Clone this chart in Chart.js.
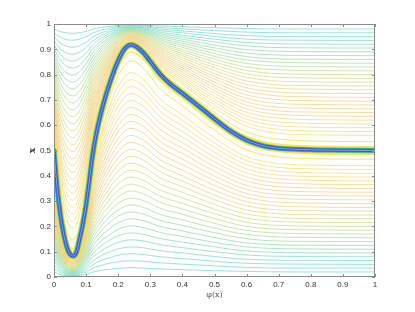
<!DOCTYPE html>
<html>
<head>
<meta charset="utf-8">
<script src="https://cdn.jsdelivr.net/npm/chart.js@4.4.1/dist/chart.umd.min.js"></script>
<style>
  html, body { margin: 0; padding: 0; background: #fff; }
  #wrap { width: 415px; height: 312px; }
</style>
</head>
<body>
<div id="wrap"><canvas id="phiChart"></canvas></div>
<script>
// phi(x) sample positions shared by the contour lines
const PHI = [0, 0.015, 0.03, 0.045, 0.06, 0.075, 0.09, 0.105, 0.12, 0.145, 0.17, 0.2, 0.24, 0.28, 0.33, 0.4, 0.5, 0.6, 0.75, 1];

// the dense core curve (finer sampling)
const CORE_PHI = [0, 0.01, 0.02, 0.03, 0.04, 0.05, 0.06, 0.07, 0.08, 0.09, 0.10, 0.11, 0.12, 0.13, 0.14, 0.16, 0.18, 0.20, 0.22, 0.24, 0.26, 0.28, 0.30, 0.33, 0.36, 0.40, 0.45, 0.50, 0.55, 0.60, 0.65, 0.70, 0.80, 0.90, 1.0];
const CORE_X = [0.500, 0.350, 0.245, 0.170, 0.118, 0.090, 0.083, 0.098, 0.150, 0.210, 0.285, 0.380, 0.480, 0.555, 0.615, 0.712, 0.790, 0.856, 0.902, 0.918, 0.907, 0.884, 0.852, 0.803, 0.765, 0.726, 0.676, 0.625, 0.577, 0.541, 0.519, 0.509, 0.503, 0.501, 0.500];

// contour levels, near the core -> far from it
const LEVELS = [0.97, 0.93, 0.88, 0.85, 0.82, 0.79, 0.76, 0.73, 0.70, 0.67, 0.64, 0.61, 0.58, 0.55, 0.52, 0.49, 0.46, 0.43, 0.40, 0.37, 0.34, 0.31, 0.28, 0.25, 0.22, 0.19, 0.16, 0.13, 0.10, 0.07, 0.04];

// contour lines above the core
const UP_97 = [0.515,0.314,0.195,0.129,0.111,0.148,0.234,0.352,0.496,0.649,0.759,0.860,0.920,0.889,0.806,0.736,0.635,0.555,0.520,0.515];
const UP_93 = [0.535,0.342,0.228,0.165,0.147,0.183,0.265,0.379,0.516,0.663,0.769,0.866,0.924,0.894,0.814,0.747,0.650,0.573,0.540,0.535];
const UP_88 = [0.560,0.378,0.270,0.210,0.193,0.227,0.305,0.412,0.542,0.681,0.782,0.873,0.928,0.900,0.824,0.761,0.669,0.596,0.564,0.560];
const UP_85 = [0.575,0.399,0.294,0.237,0.221,0.254,0.328,0.432,0.558,0.692,0.789,0.878,0.930,0.903,0.830,0.769,0.680,0.610,0.579,0.575];
const UP_82 = [0.590,0.420,0.319,0.264,0.248,0.280,0.352,0.452,0.574,0.703,0.797,0.882,0.933,0.907,0.836,0.777,0.692,0.624,0.594,0.590];
const UP_79 = [0.605,0.441,0.344,0.291,0.276,0.306,0.376,0.472,0.589,0.714,0.804,0.886,0.935,0.910,0.842,0.785,0.703,0.637,0.609,0.605];
const UP_76 = [0.620,0.463,0.369,0.318,0.303,0.333,0.400,0.492,0.605,0.725,0.812,0.891,0.938,0.913,0.848,0.793,0.714,0.651,0.624,0.620];
const UP_73 = [0.635,0.484,0.394,0.344,0.331,0.359,0.423,0.512,0.620,0.736,0.819,0.895,0.940,0.917,0.854,0.801,0.726,0.665,0.639,0.635];
const UP_70 = [0.650,0.505,0.419,0.371,0.358,0.385,0.447,0.532,0.636,0.747,0.826,0.899,0.943,0.920,0.860,0.810,0.737,0.679,0.653,0.650];
const UP_67 = [0.665,0.526,0.444,0.398,0.386,0.412,0.471,0.552,0.652,0.757,0.834,0.904,0.945,0.924,0.866,0.818,0.748,0.692,0.668,0.665];
const UP_64 = [0.680,0.548,0.469,0.425,0.413,0.438,0.494,0.572,0.667,0.768,0.841,0.908,0.948,0.927,0.872,0.826,0.759,0.706,0.683,0.680];
const UP_61 = [0.695,0.569,0.494,0.452,0.441,0.464,0.518,0.593,0.683,0.779,0.849,0.912,0.950,0.930,0.878,0.834,0.771,0.720,0.698,0.695];
const UP_58 = [0.710,0.590,0.519,0.479,0.468,0.491,0.542,0.613,0.698,0.790,0.856,0.916,0.952,0.934,0.884,0.842,0.782,0.734,0.713,0.710];
const UP_55 = [0.725,0.611,0.543,0.506,0.496,0.517,0.565,0.633,0.714,0.801,0.864,0.921,0.955,0.937,0.890,0.850,0.793,0.748,0.728,0.725];
const UP_52 = [0.740,0.632,0.568,0.533,0.523,0.543,0.589,0.653,0.730,0.812,0.871,0.925,0.957,0.941,0.896,0.859,0.804,0.761,0.743,0.740];
const UP_49 = [0.755,0.654,0.593,0.560,0.551,0.570,0.613,0.673,0.745,0.823,0.878,0.929,0.960,0.944,0.902,0.867,0.816,0.775,0.757,0.755];
const UP_46 = [0.770,0.675,0.618,0.587,0.578,0.596,0.637,0.693,0.761,0.833,0.886,0.934,0.962,0.948,0.908,0.875,0.827,0.789,0.772,0.770];
const UP_43 = [0.785,0.696,0.643,0.614,0.606,0.622,0.660,0.713,0.776,0.844,0.893,0.938,0.965,0.951,0.914,0.883,0.838,0.803,0.787,0.785];
const UP_40 = [0.800,0.717,0.668,0.641,0.633,0.649,0.684,0.733,0.792,0.855,0.901,0.942,0.967,0.954,0.920,0.891,0.850,0.816,0.802,0.800];
const UP_37 = [0.815,0.738,0.693,0.668,0.661,0.675,0.708,0.753,0.808,0.866,0.908,0.947,0.970,0.958,0.926,0.899,0.861,0.830,0.817,0.815];
const UP_34 = [0.830,0.760,0.718,0.695,0.688,0.701,0.731,0.773,0.823,0.877,0.916,0.951,0.972,0.961,0.932,0.908,0.872,0.844,0.832,0.830];
const UP_31 = [0.845,0.781,0.743,0.722,0.716,0.728,0.755,0.793,0.839,0.888,0.923,0.955,0.975,0.965,0.938,0.916,0.883,0.858,0.847,0.845];
const UP_28 = [0.860,0.802,0.768,0.749,0.743,0.754,0.779,0.813,0.854,0.899,0.931,0.960,0.977,0.968,0.944,0.924,0.895,0.871,0.861,0.860];
const UP_25 = [0.875,0.823,0.792,0.775,0.771,0.780,0.802,0.833,0.870,0.909,0.938,0.964,0.979,0.971,0.950,0.932,0.906,0.885,0.876,0.875];
const UP_22 = [0.890,0.844,0.817,0.802,0.798,0.807,0.826,0.853,0.886,0.920,0.945,0.968,0.982,0.975,0.956,0.940,0.917,0.899,0.891,0.890];
const UP_19 = [0.905,0.866,0.842,0.829,0.826,0.833,0.850,0.873,0.901,0.931,0.953,0.973,0.984,0.978,0.962,0.948,0.929,0.913,0.906,0.905];
const UP_16 = [0.920,0.887,0.867,0.856,0.853,0.860,0.874,0.893,0.917,0.942,0.960,0.977,0.987,0.982,0.968,0.956,0.940,0.927,0.921,0.920];
const UP_13 = [0.935,0.908,0.892,0.883,0.881,0.886,0.897,0.913,0.932,0.953,0.968,0.981,0.989,0.985,0.974,0.965,0.951,0.940,0.936,0.935];
const UP_10 = [0.950,0.929,0.917,0.910,0.908,0.912,0.921,0.933,0.948,0.964,0.975,0.986,0.992,0.989,0.980,0.973,0.962,0.954,0.950,0.950];
const UP_07 = [0.965,0.951,0.942,0.937,0.936,0.939,0.945,0.953,0.964,0.975,0.983,0.990,0.994,0.992,0.986,0.981,0.974,0.968,0.965,0.965];
const UP_04 = [0.980,0.972,0.967,0.964,0.963,0.965,0.968,0.973,0.979,0.986,0.990,0.994,0.997,0.995,0.992,0.989,0.985,0.982,0.980,0.980];

// contour lines below the core
const LOW_97 = [0.485,0.284,0.165,0.099,0.081,0.118,0.204,0.322,0.466,0.619,0.729,0.830,0.890,0.859,0.776,0.706,0.605,0.525,0.490,0.485];
const LOW_93 = [0.465,0.272,0.158,0.095,0.077,0.113,0.195,0.309,0.446,0.593,0.699,0.796,0.854,0.824,0.744,0.677,0.580,0.503,0.470,0.465];
const LOW_88 = [0.440,0.258,0.150,0.090,0.073,0.107,0.185,0.292,0.422,0.561,0.662,0.753,0.808,0.780,0.704,0.641,0.549,0.476,0.444,0.440];
const LOW_85 = [0.425,0.249,0.145,0.087,0.071,0.104,0.179,0.282,0.408,0.542,0.639,0.728,0.780,0.753,0.680,0.619,0.530,0.460,0.429,0.425];
const LOW_82 = [0.410,0.240,0.139,0.084,0.068,0.100,0.172,0.272,0.394,0.523,0.617,0.702,0.753,0.727,0.656,0.597,0.512,0.444,0.414,0.410];
const LOW_79 = [0.395,0.231,0.134,0.081,0.066,0.096,0.166,0.262,0.379,0.504,0.594,0.676,0.725,0.700,0.632,0.575,0.493,0.427,0.399,0.395];
const LOW_76 = [0.380,0.223,0.129,0.078,0.063,0.093,0.160,0.252,0.365,0.485,0.572,0.651,0.698,0.673,0.608,0.553,0.474,0.411,0.384,0.380];
const LOW_73 = [0.365,0.214,0.124,0.074,0.061,0.089,0.153,0.242,0.350,0.466,0.549,0.625,0.670,0.647,0.584,0.531,0.456,0.395,0.369,0.365];
const LOW_70 = [0.350,0.205,0.119,0.071,0.058,0.085,0.147,0.232,0.336,0.447,0.526,0.599,0.643,0.620,0.560,0.510,0.437,0.379,0.354,0.350];
const LOW_67 = [0.335,0.196,0.114,0.068,0.056,0.082,0.141,0.222,0.322,0.427,0.504,0.574,0.615,0.594,0.536,0.488,0.418,0.362,0.338,0.335];
const LOW_64 = [0.320,0.188,0.109,0.065,0.053,0.078,0.134,0.212,0.307,0.408,0.481,0.548,0.588,0.567,0.512,0.466,0.399,0.346,0.323,0.320];
const LOW_61 = [0.305,0.179,0.104,0.062,0.051,0.074,0.128,0.203,0.293,0.389,0.459,0.522,0.560,0.540,0.488,0.444,0.381,0.330,0.308,0.305];
const LOW_58 = [0.290,0.170,0.099,0.059,0.048,0.071,0.122,0.193,0.278,0.370,0.436,0.496,0.532,0.514,0.464,0.422,0.362,0.314,0.293,0.290];
const LOW_55 = [0.275,0.161,0.094,0.056,0.046,0.067,0.116,0.183,0.264,0.351,0.414,0.471,0.505,0.487,0.440,0.400,0.343,0.298,0.278,0.275];
const LOW_52 = [0.260,0.152,0.088,0.053,0.043,0.063,0.109,0.173,0.250,0.332,0.391,0.445,0.477,0.461,0.416,0.379,0.324,0.281,0.263,0.260];
const LOW_49 = [0.245,0.144,0.083,0.050,0.041,0.060,0.103,0.163,0.235,0.313,0.368,0.419,0.450,0.434,0.392,0.357,0.306,0.265,0.247,0.245];
const LOW_46 = [0.230,0.135,0.078,0.047,0.038,0.056,0.097,0.153,0.221,0.293,0.346,0.394,0.422,0.408,0.368,0.335,0.287,0.249,0.232,0.230];
const LOW_43 = [0.215,0.126,0.073,0.044,0.036,0.052,0.090,0.143,0.206,0.274,0.323,0.368,0.395,0.381,0.344,0.313,0.268,0.233,0.217,0.215];
const LOW_40 = [0.200,0.117,0.068,0.041,0.033,0.049,0.084,0.133,0.192,0.255,0.301,0.342,0.367,0.354,0.320,0.291,0.250,0.216,0.202,0.200];
const LOW_37 = [0.185,0.108,0.063,0.038,0.031,0.045,0.078,0.123,0.178,0.236,0.278,0.317,0.340,0.328,0.296,0.269,0.231,0.200,0.187,0.185];
const LOW_34 = [0.170,0.100,0.058,0.035,0.028,0.041,0.071,0.113,0.163,0.217,0.256,0.291,0.312,0.301,0.272,0.248,0.212,0.184,0.172,0.170];
const LOW_31 = [0.155,0.091,0.053,0.032,0.026,0.038,0.065,0.103,0.149,0.198,0.233,0.265,0.285,0.275,0.248,0.226,0.193,0.168,0.157,0.155];
const LOW_28 = [0.140,0.082,0.048,0.029,0.023,0.034,0.059,0.093,0.134,0.179,0.211,0.240,0.257,0.248,0.224,0.204,0.175,0.151,0.141,0.140];
const LOW_25 = [0.125,0.073,0.043,0.026,0.021,0.031,0.053,0.083,0.120,0.160,0.188,0.214,0.230,0.222,0.200,0.182,0.156,0.135,0.126,0.125];
const LOW_22 = [0.110,0.064,0.037,0.022,0.018,0.027,0.046,0.073,0.106,0.140,0.165,0.188,0.202,0.195,0.176,0.160,0.137,0.119,0.111,0.110];
const LOW_19 = [0.095,0.056,0.032,0.019,0.016,0.023,0.040,0.063,0.091,0.121,0.143,0.163,0.174,0.168,0.152,0.138,0.119,0.103,0.096,0.095];
const LOW_16 = [0.080,0.047,0.027,0.016,0.013,0.020,0.034,0.053,0.077,0.102,0.120,0.137,0.147,0.142,0.128,0.116,0.100,0.087,0.081,0.080];
const LOW_13 = [0.065,0.038,0.022,0.013,0.011,0.016,0.027,0.043,0.062,0.083,0.098,0.111,0.119,0.115,0.104,0.095,0.081,0.070,0.066,0.065];
const LOW_10 = [0.050,0.029,0.017,0.010,0.008,0.012,0.021,0.033,0.048,0.064,0.075,0.086,0.092,0.089,0.080,0.073,0.062,0.054,0.051,0.050];
const LOW_07 = [0.035,0.021,0.012,0.007,0.006,0.009,0.015,0.023,0.034,0.045,0.053,0.060,0.064,0.062,0.056,0.051,0.044,0.038,0.035,0.035];
const LOW_04 = [0.020,0.012,0.007,0.004,0.003,0.005,0.008,0.013,0.019,0.026,0.030,0.034,0.037,0.035,0.032,0.029,0.025,0.022,0.020,0.020];

const X_TICKS = ['0', '0.1', '0.2', '0.3', '0.4', '0.5', '0.6', '0.7', '0.8', '0.9', '1'];
const Y_TICKS = ['0', '0.1', '0.2', '0.3', '0.4', '0.5', '0.6', '0.7', '0.8', '0.9', '1'];

const UPPER_LINES = [UP_97, UP_93, UP_88, UP_85, UP_82, UP_79, UP_76, UP_73, UP_70, UP_67, UP_64, UP_61, UP_58, UP_55, UP_52, UP_49,
                     UP_46, UP_43, UP_40, UP_37, UP_34, UP_31, UP_28, UP_25, UP_22, UP_19, UP_16, UP_13, UP_10, UP_07, UP_04];
const LOWER_LINES = [LOW_97, LOW_93, LOW_88, LOW_85, LOW_82, LOW_79, LOW_76, LOW_73, LOW_70, LOW_67, LOW_64, LOW_61, LOW_58, LOW_55, LOW_52, LOW_49,
                     LOW_46, LOW_43, LOW_40, LOW_37, LOW_34, LOW_31, LOW_28, LOW_25, LOW_22, LOW_19, LOW_16, LOW_13, LOW_10, LOW_07, LOW_04];

// colour ramp: yellow near the core -> tan -> olive -> green -> teal far away
const RAMP = [
  [1.00, [247, 224, 40]],
  [0.90, [246, 222, 70]],
  [0.82, [245, 216, 105]],
  [0.66, [241, 200, 125]],
  [0.52, [228, 210, 112]],
  [0.38, [190, 216, 125]],
  [0.25, [138, 214, 160]],
  [0.10, [102, 214, 195]],
  [0.00, [96, 212, 205]]
];
function levelColor(t) {
  for (let i = 0; i < RAMP.length - 1; i++) {
    const [t0, c0] = RAMP[i], [t1, c1] = RAMP[i + 1];
    if (t <= t0 && t >= t1) {
      const f = (t0 - t) / (t0 - t1);
      const c = c0.map((v, k) => Math.round(v + (c1[k] - v) * f));
      return `rgba(${c[0]},${c[1]},${c[2]},0.85)`;
    }
  }
  return 'rgba(96,212,205,0.85)';
}
// the level hugging the core is drawn a touch heavier
const levelWidth = i => (i === 0 ? 1.2 : i === 1 ? 0.95 : 0.8);

function toPoints(xs, ys) {
  return xs.map((p, i) => ({ x: p, y: ys[i] }));
}

const datasets = [];

// core band drawn as stacked strokes, top-most first
const coreStyles = [
  { color: 'rgba(255,255,255,0.8)', width: 0.6 },
  { color: '#3546d8', width: 2 },
  { color: '#2f6ee8', width: 3.4 },
  { color: '#1ab6c4', width: 4.4 },
  { color: '#8cc83e', width: 5.2 },
  { color: '#f9e027', width: 7 }
];
coreStyles.forEach((s, i) => {
  datasets.push({ data: toPoints(CORE_PHI, CORE_X), borderColor: s.color, borderWidth: s.width, order: i });
});

UPPER_LINES.forEach((ys, i) => {
  datasets.push({ data: toPoints(PHI, ys), borderColor: levelColor(LEVELS[i]), borderWidth: levelWidth(i), order: 10 + i });
});
LOWER_LINES.forEach((ys, i) => {
  datasets.push({ data: toPoints(PHI, ys), borderColor: levelColor(LEVELS[i]), borderWidth: levelWidth(i), order: 10 + i });
});

// MATLAB-like box with inward ticks
const boxPlugin = {
  id: 'boxTicks',
  afterDatasetsDraw(chart) {
    const { ctx, chartArea: a, scales: { x, y } } = chart;
    ctx.save();
    ctx.strokeStyle = '#8a8a8a';
    ctx.lineWidth = 1;
    ctx.strokeRect(a.left + 0.5, a.top + 0.5, a.right - a.left - 1, a.bottom - a.top - 1);
    ctx.beginPath();
    x.ticks.forEach(t => {
      const px = Math.round(x.getPixelForValue(t.value)) + 0.5;
      ctx.moveTo(px, a.bottom); ctx.lineTo(px, a.bottom - 3);
      ctx.moveTo(px, a.top); ctx.lineTo(px, a.top + 3);
    });
    y.ticks.forEach(t => {
      const py = Math.round(y.getPixelForValue(t.value)) + 0.5;
      ctx.moveTo(a.left, py); ctx.lineTo(a.left + 3, py);
      ctx.moveTo(a.right, py); ctx.lineTo(a.right - 3, py);
    });
    ctx.stroke();
    ctx.restore();
  }
};

const tickFont = { family: 'Liberation Sans, Arial, sans-serif', size: 8 };

new Chart(document.getElementById('phiChart'), {
  type: 'line',
  data: { datasets },
  options: {
    responsive: true,
    maintainAspectRatio: false,
    animation: false,
    devicePixelRatio: 1,
    layout: { padding: { left: 0, right: 40, top: 24, bottom: 0 } },
    elements: {
      point: { radius: 0 },
      line: { cubicInterpolationMode: 'monotone', fill: false, borderCapStyle: 'round' }
    },
    plugins: { legend: { display: false }, tooltip: { enabled: false } },
    scales: {
      x: {
        type: 'linear', min: 0, max: 1,
        grid: { display: false, drawTicks: false },
        border: { display: false },
        ticks: { stepSize: 0.1, padding: 3, color: '#333', font: tickFont, maxRotation: 0,
                 callback: (v, i) => X_TICKS[i] },
        title: { display: true, text: 'φ(x)', color: '#555', padding: { bottom: 12.6 },
                 font: { family: 'DejaVu Serif, serif', size: 8 } },
        afterFit(scale) { scale.height = 35; }
      },
      y: {
        type: 'linear', min: 0, max: 1,
        grid: { display: false, drawTicks: false },
        border: { display: false },
        ticks: { stepSize: 0.1, padding: 3, color: '#333', font: tickFont,
                 callback: (v, i) => Y_TICKS[i] },
        title: { display: true, text: 'x', color: '#333', padding: { top: 27.6 },
                 font: { family: 'DejaVu Serif, serif', size: 9, weight: 'bold' } },
        afterFit(scale) { scale.width = 54; }
      }
    }
  },
  plugins: [boxPlugin]
});
</script>
</body>
</html>
